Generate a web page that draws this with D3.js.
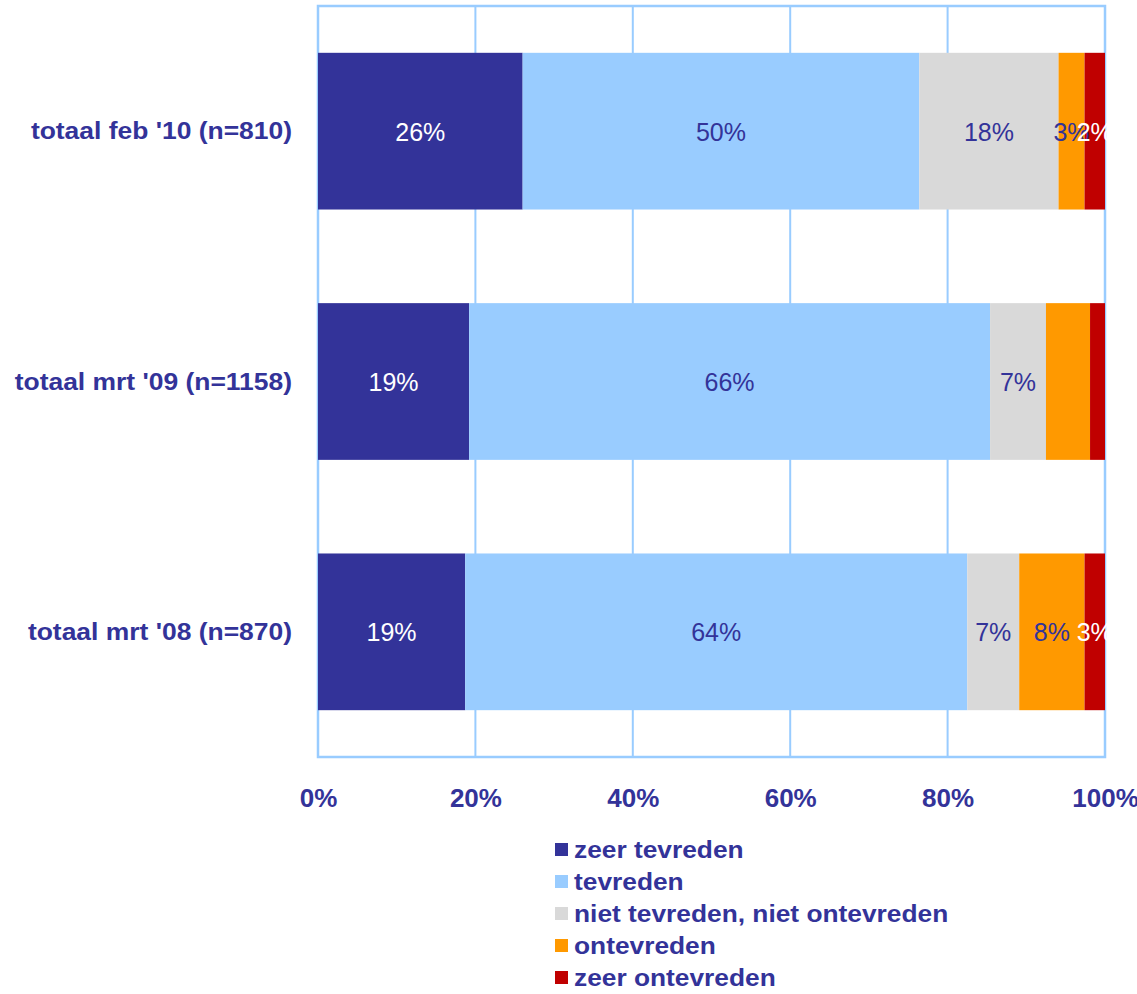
<!DOCTYPE html>
<html>
<head>
<meta charset="utf-8">
<script src="https://cdn.jsdelivr.net/npm/d3@7"></script>
<style>
  body { margin: 0; background: #fff; }
  svg { display: block; font-family: "Liberation Sans", Arial, sans-serif; }
</style>
</head>
<body>
<div id="chart"></div>
<script>
// categories top to bottom
const categories = ["totaal feb '10 (n=810)", "totaal mrt '09 (n=1158)", "totaal mrt '08 (n=870)"];
const seriesNames = ["zeer tevreden", "tevreden", "niet tevreden, niet ontevreden", "ontevreden", "zeer ontevreden"];
const colors = ["#333399", "#99CCFF", "#D9D9D9", "#FF9900", "#C00000"];
const labelColors = ["#ffffff", "#333399", "#333399", "#333399", "#ffffff"];
// values per series (percent), one per category
const zeerTevreden = [26.0, 19.2, 18.7];
const tevreden = [50.4, 66.2, 63.8];
const neutraal = [17.7, 7.1, 6.6];
const ontevreden = [3.3, 5.6, 8.3];
const zeerOntevreden = [2.6, 1.9, 2.6];
// labels shown on the bars (null = no label)
const barLabels = [
    ["26%", "50%", "18%", "3%", "2%"],
    ["19%", "66%", "7%", null, null],
    ["19%", "64%", "7%", "8%", "3%"]
];
const tickValues = [0, 20, 40, 60, 80, 100];

const W = 1137, H = 994;
const margin = { top: 6, left: 318, right: 32, bottom: 237 };
const width = W - margin.left - margin.right,
    height = H - margin.top - margin.bottom;
const stretch = 1.12; // text in the original is a bit wide

const svg = d3.select("#chart").append("svg")
    .attr("width", W)
    .attr("height", H);

const chart = svg.append("g")
    .attr("transform", "translate(" + margin.left + "," + margin.top + ")");

const x = d3.scaleLinear().domain([0, 100]).range([0, width]);
const y = d3.scaleBand().domain(categories).range([0, height]).paddingInner(0.374).paddingOuter(0.187);

// build stacked rows
const values = [zeerTevreden, tevreden, neutraal, ontevreden, zeerOntevreden];
const rows = categories.map((c, i) => {
    let obj = { cat: c };
    seriesNames.forEach((s, j) => obj[s] = values[j][i]);
    return obj;
});
const stacked = d3.stack().keys(seriesNames)(rows);

// gridlines
chart.append("g")
    .selectAll("line")
    .data(tickValues)
    .enter().append("line")
    .attr("x1", d => x(d)).attr("x2", d => x(d))
    .attr("y1", 0).attr("y2", height)
    .attr("stroke", "#99CCFF")
    .attr("stroke-width", 2);

chart.append("rect")
    .attr("x", 0).attr("y", 0)
    .attr("width", width).attr("height", height)
    .attr("fill", "none")
    .attr("stroke", "#99CCFF")
    .attr("stroke-width", 2.5);

// bars
const layer = chart.selectAll(".layer")
    .data(stacked)
    .enter().append("g")
    .attr("class", "layer")
    .attr("fill", (d, i) => colors[i]);

layer.selectAll("rect")
    .data(d => d)
    .enter().append("rect")
    .attr("x", d => x(d[0]))
    .attr("y", d => y(d.data.cat))
    .attr("width", d => x(d[1]) - x(d[0]))
    .attr("height", y.bandwidth());

// bar labels
stacked.forEach((s, j) => {
    chart.append("g").selectAll("text")
        .data(s)
        .enter().append("text")
        .filter((d, i) => barLabels[i][j] !== null)
        .attr("x", d => x((d[0] + d[1]) / 2))
        .attr("y", d => y(d.data.cat) + y.bandwidth() / 2)
        .attr("dy", "0.38em")
        .attr("text-anchor", "middle")
        .attr("fill", labelColors[j])
        .style("font-size", "25px")
        .text(d => barLabels[categories.indexOf(d.data.cat)][j]);
});

// category labels
chart.append("g").selectAll("text")
    .data(categories)
    .enter().append("text")
    .attr("transform", d => "translate(-26," + (y(d) + y.bandwidth() / 2) + ") scale(1.15,1)")
    .attr("dy", "0.36em")
    .attr("text-anchor", "end")
    .attr("fill", "#333399")
    .style("font-size", "23px")
    .style("font-weight", "bold")
    .text(d => d);

// x axis tick labels
const xAxis = d3.axisBottom(x)
    .tickValues(tickValues)
    .tickSize(0)
    .tickPadding(32)
    .tickFormat(d => d + "%");

chart.append("g")
    .attr("transform", "translate(0," + height + ")")
    .call(xAxis)
    .call(g => g.select(".domain").remove())
    .selectAll("text")
    .attr("fill", "#333399")
    .style("font-family", "'Liberation Sans', Arial, sans-serif")
    .style("font-size", "26px")
    .style("font-weight", "bold");

// legend
const legend = svg.append("g")
    .attr("transform", "translate(555,841)");

const item = legend.selectAll("g")
    .data(seriesNames)
    .enter().append("g")
    .attr("transform", (d, i) => "translate(0," + (i * 32) + ")");

item.append("rect")
    .attr("width", 13).attr("height", 13)
    .attr("y", 2)
    .attr("fill", (d, i) => colors[i]);

item.append("text")
    .attr("transform", "translate(19,9) scale(" + stretch + ",1)")
    .attr("dy", "0.36em")
    .attr("fill", "#333399")
    .style("font-size", "23.5px")
    .style("font-weight", "bold")
    .text(d => d);
</script>
</body>
</html>
